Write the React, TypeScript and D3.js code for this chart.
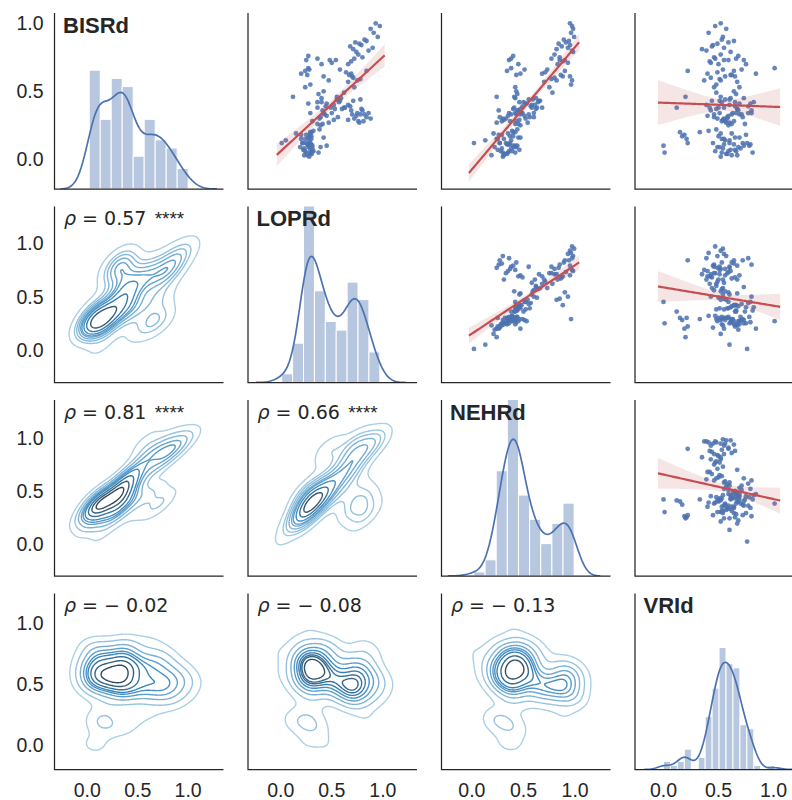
import React from "react";
import * as d3 from "d3";

// ---- data: one entry per subject, same order in every array ----
const variables = ["BISRd", "LOPRd", "NEHRd", "VRId"];

const BISRd = [
  0.03, 0.05, 0.06, 0.08, 0.04, 0.09, 0.07, 0.11, 0.10, 0.02,
  0.12, 0.06, 0.09, 0.12, 0.05, 0.08, 0.11, 0.04, 0.07, 0.12,
  0.10, 0.03, 0.09, 0.11, 0.06, 0.15, 0.16, 0.14, 0.17, 0.18,
  0.16, 0.19, 0.15, 0.21,
  0.10, 0.05, 0.20, 0.17, 0.18, 0.15, 0.12, 0.20, 0.12, 0.14, 0.22, 0.19,
  0.30, 0.33, 0.28, 0.34, 0.31, 0.36, 0.27, 0.34, 0.29, 0.37, 0.32, 0.33, 0.30, 0.33, 0.28, 0.36,
  0.26, 0.30, 0.34, 0.28, 0.40, 0.33, 0.25, 0.38, 0.42, 0.31,
  0.36, 0.27, 0.43, 0.34, 0.39, 0.29, 0.45, 0.48, 0.46, 0.37,
  0.41, 0.32, 0.44, 0.26, 0.38, 0.31, 0.50, 0.42, 0.40, 0.43,
  0.38, 0.44, 0.41, 0.37, 0.45, 0.39, 0.42, 0.38, 0.46, 0.34,
  0.76, 0.73, 0.65, 0.63, 0.62, 0.66, 0.74, 0.70, 0.73, 0.71, 0.73, 0.61, 0.53, 0.55, 0.58, 0.67,
  1.00, 0.98, 0.96, 0.93, 0.90, 0.87, 0.84, 0.82, 0.80, 0.79,
  0.85, 0.81, 0.88, 0.83, 0.86, 0.75, 0.72, 0.77, 0.70, 0.74,
  0.61, 0.58, 0.62, 0.60, 0.64, 0.59, 0.63, 0.66, 0.53, 0.49,
  0.57, 0.65,
];

const LOPRd = [
  0.26, 0.29, 0.24, 0.31, 0.30, 0.27, 0.22, 0.30, 0.31, 0.28,
  0.25, 0.32, 0.19, 0.29, 0.37, 0.23, 0.27, 0.30, 0.29, 0.21,
  0.28, 0.23, 0.39, 0.26, 0.31, 0.24, 0.27, 0.28, 0.30, 0.25,
  0.42, 0.29, 0.20, 0.32,
  0.45, 0.25, 0.30, 0.28, 0.20, 0.30, 0.22, 0.29, 0.01, 0.05, 0.38, 0.15,
  0.72, 0.78, 0.81, 0.75, 0.84, 0.69, 0.77, 0.86, 0.66, 0.79, 0.74, 0.82, 0.88, 0.70, 0.76, 0.80,
  0.41, 0.38, 0.42, 0.31, 0.52, 0.43, 0.39, 0.49, 0.36, 0.56,
  0.41, 0.47, 0.58, 0.29, 0.44, 0.52, 0.40, 0.37, 0.55, 0.60,
  0.27, 0.45, 0.55, 0.36, 0.62, 0.39, 0.42, 0.57, 0.66, 0.71,
  0.63, 0.78, 0.45, 0.53, 0.59, 0.68, 0.40, 0.36, 0.12, 0.50,
  0.27, 0.25, 0.24, 0.20, 0.26, 0.28, 0.36, 0.40, 0.48, 0.50, 0.54, 0.42, 0.24, 0.29, 0.47, 0.27,
  0.93, 0.97, 0.88, 0.91, 0.95, 0.84, 0.79, 0.90, 0.86, 0.74,
  0.77, 0.71, 0.82, 0.68, 0.73, 0.80, 0.69, 0.76, 0.66, 0.72,
  0.70, 0.75, 0.67, 0.71, 0.64, 0.78, 0.69, 0.58, 0.72, 0.62,
  0.66, 0.84,
];

const NEHRd = [
  0.31, 0.35, 0.28, 0.38, 0.34, 0.41, 0.25, 0.36, 0.44, 0.30,
  0.33, 0.39, 0.22, 0.37, 0.42, 0.29, 0.35, 0.32, 0.46, 0.27,
  0.40, 0.19, 0.43, 0.34, 0.36, 0.31, 0.45, 0.38, 0.40, 0.29,
  0.47, 0.35, 0.24, 0.39,
  0.42, 0.30, 0.40, 0.37, 0.26, 0.25, 0.27, 0.42, 0.02, 0.13, 0.44, 0.21,
  0.33, 0.38, 0.29, 0.42, 0.27, 0.45, 0.24, 0.36, 0.31, 0.40, 0.35, 0.43, 0.30, 0.47, 0.37, 0.26,
  0.45, 0.52, 0.48, 0.43, 0.58, 0.55, 0.47, 0.63, 0.50, 0.60,
  0.44, 0.54, 0.66, 0.49, 0.57, 0.46, 0.42, 0.44, 0.41, 0.62,
  0.53, 0.51, 0.59, 0.42, 0.68, 0.56, 0.43, 0.64, 0.61, 0.65,
  0.58, 0.55, 0.52, 0.47, 0.62, 0.49, 0.46, 0.41, 0.24, 0.60,
  0.40, 0.36, 0.34, 0.47, 0.43, 0.51, 0.38, 0.45, 0.85, 0.93, 0.90, 0.88, 0.42, 0.96, 0.82, 0.38,
  0.95, 0.97, 0.98, 0.96, 0.99, 0.94, 0.95, 0.93, 0.97, 0.98,
  0.84, 0.82, 0.89, 0.87, 0.91, 0.85, 0.88, 0.80, 0.83, 0.77,
  0.95, 0.97, 0.86, 0.80, 0.71, 0.77, 0.68, 0.73, 0.75, 0.78,
  0.70, 0.90,
];

const VRId = [
  0.62, 0.53, 0.66, 0.70, 0.58, 0.49, 0.65, 0.55, 0.78, 0.52,
  0.60, 0.47, 0.68, 0.72, 0.81, 0.54, 0.64, 0.57, 0.61, 0.45,
  0.73, 0.67, 0.51, 0.79, 0.59, 0.53, 0.69, 0.56, 0.50, 0.75,
  0.65, 0.62, 0.55, 0.41,
  0.00, 0.01, 0.15, 0.17, 0.19, 0.21, 0.22, 0.33, 0.76, 0.60, 0.48, 0.52,
  0.58, 0.46, 0.64, 0.51, 0.72, 0.43, 0.60, 0.77, 0.54, 0.67, 0.40, 0.62, 0.49, 0.69, 0.56, 0.80,
  0.62, 0.55, 0.66, 0.53, 0.60, 0.71, 0.59, 0.50, 0.65, 0.46,
  0.68, 0.57, 0.44, 0.63, 0.77, 0.54, 0.61, 0.66, 0.52, 0.48,
  0.69, 0.59, 0.56, 0.74, 0.42, 0.58, 0.64, 0.53, 0.39, 0.51,
  0.55, 0.60, 0.79, 0.67, 0.73, 0.65, 0.82, 0.12, 0.20, 0.80,
  0.68, 0.73, 0.64, 0.84, 0.61, 0.71, 0.66, 0.75, 0.55, 0.43, 0.59, 0.65, 0.69, 0.48, 0.52, 1.01,
  0.52, 0.47, 0.57, 0.41, 0.54, 0.64, 0.45, 0.55, 0.39, 0.61,
  0.49, 0.35, 0.53, 0.44, 0.59, 0.46, 0.42, 0.52, 0.50, 0.47,
  0.56, 0.37, 0.62, 0.43, 0.49, 0.51, 0.40, 0.54, 0.46, 0.48,
  0.67, 0.22,
];

const series = [BISRd, LOPRd, NEHRd, VRId];

// Spearman correlations shown in the lower triangle: [row, col]
const rhoPairs: [number, number][] = [[1, 0], [2, 0], [2, 1], [3, 0], [3, 1], [3, 2]];
const rhoValues = [0.57, 0.81, 0.66, -0.02, -0.08, -0.13];
const rhoStars = ["****", "****", "****", "", "", ""];

const tickValues = [0, 0.5, 1.0];
const histBinCounts = [9, 9, 9, 16];
const contourCount = 10;
const contourThresh = 0.05;

// axis limits
const colDomains: [number, number][] = [[-0.324, 1.35], [-0.32, 1.334], [-0.294, 1.342], [-0.259, 1.277]];
const rowDomains: [number, number][] = [[-0.218, 1.076], [-0.305, 1.345], [-0.307, 1.363], [-0.201, 1.245]];
const diagTop = [2.63, 2.52, 2.69, 4.57];

// ---- layout ----
const W = 792;
const H = 800;
const panelW = 169;
const panelH = 176;
const colX = [54.5, 248, 441.5, 635];
const rowY = [13, 206.5, 400, 593.5];

const ink = "#262626";
const blue = "#4c72b0";
const red = "#c44e52";
const sansFont = "'Liberation Sans', Arial, Helvetica, sans-serif";
const mathFont = "'DejaVu Sans', sans-serif";

const SQRT2PI = Math.sqrt(2 * Math.PI);

function sampleVar(v: number[]) {
  const m = d3.mean(v) as number;
  return d3.sum(v, (x) => (x - m) * (x - m)) / (v.length - 1);
}

function sampleCov(a: number[], b: number[]) {
  const ma = d3.mean(a) as number;
  const mb = d3.mean(b) as number;
  let s = 0;
  for (let k = 0; k < a.length; k++) s += (a[k] - ma) * (b[k] - mb);
  return s / (a.length - 1);
}

// density levels enclosing given proportions of the total mass
function isoLevels(values: number[], props: number[]) {
  const sorted = [...values].sort((a, b) => b - a);
  const total = d3.sum(sorted);
  const cum: number[] = [];
  let acc = 0;
  for (const v of sorted) {
    acc += v;
    cum.push(acc / total);
  }
  return props.map((p) => {
    const idx = d3.bisectLeft(cum, 1 - p);
    return sorted[Math.min(idx, sorted.length - 1)];
  });
}

const cmap = d3.piecewise(d3.interpolateRgb, ["#abd0e6", "#3787c0", "#333333"]);

function fmtRho(v: number) {
  const s = Math.abs(v).toFixed(2);
  return v < 0 ? "\u2212 " + s : s;
}

export default function App() {
  const n = BISRd.length;
  const sds = series.map((v) => Math.sqrt(sampleVar(v)));
  const bw1 = sds.map((s) => s * Math.pow(n, -1 / 5));
  const f2d = Math.pow(n, -1 / 6);
  const xScales = colDomains.map((d, j) => d3.scaleLinear().domain(d).range([colX[j], colX[j] + panelW]));
  const yScales = rowDomains.map((d, i) => d3.scaleLinear().domain(d).range([rowY[i] + panelH, rowY[i]]));
  const props = d3.range(contourCount).map((k) => contourThresh + (k * (1 - contourThresh)) / (contourCount - 1));

  const panels: React.ReactNode[] = [];
  const clips: React.ReactNode[] = [];

  for (let i = 0; i < 4; i++) {
    for (let j = 0; j < 4; j++) {
      const id = `clip-${i}-${j}`;
      clips.push(
        <clipPath id={id} key={id}>
          <rect x={colX[j]} y={rowY[i]} width={panelW} height={panelH} />
        </clipPath>
      );
      const xs = series[j];
      const ys = series[i];
      const xS = xScales[j];
      const yS = yScales[i];
      const content: React.ReactNode[] = [];

      if (i === j) {
        // histogram + kde on the diagonal
        const v = series[i];
        const [lo, hi] = d3.extent(v) as [number, number];
        const k = histBinCounts[i];
        const width = (hi - lo) / k;
        const thresholds = d3.range(1, k).map((t) => lo + t * width);
        const bins = d3.bin().domain([lo, hi]).thresholds(thresholds)(v);
        const yD = d3.scaleLinear().domain([0, diagTop[i]]).range([rowY[i] + panelH, rowY[i]]);
        bins.forEach((b, bi) => {
          if (b.length === 0) return;
          const dens = b.length / (n * width);
          content.push(
            <rect
              key={`h${bi}`}
              x={xS(b.x0 as number)}
              y={yD(dens)}
              width={xS(b.x1 as number) - xS(b.x0 as number)}
              height={yD(0) - yD(dens)}
              fill={blue}
              fillOpacity={0.4}
              stroke="#ffffff"
              strokeWidth={1}
            />
          );
        });
        const bw = bw1[i];
        const g0 = lo - 3 * bw;
        const g1 = hi + 3 * bw;
        const grid = d3.range(100).map((t) => g0 + (t * (g1 - g0)) / 99);
        const kde = grid.map(
          (x) =>
            [x, d3.sum(v, (xi) => Math.exp(-0.5 * ((x - xi) / bw) ** 2)) / (n * bw * SQRT2PI)] as [number, number]
        );
        const line = d3.line<[number, number]>().x((d) => xS(d[0])).y((d) => yD(d[1]));
        content.push(<path key="kde" d={line(kde) as string} fill="none" stroke={blue} strokeWidth={1.7} />);
      } else if (i < j) {
        // scatter with linear fit and 95% band
        const mx = d3.mean(xs) as number;
        const my = d3.mean(ys) as number;
        const sxx = d3.sum(xs, (x) => (x - mx) * (x - mx));
        const sxy = d3.sum(xs.map((x, k) => (x - mx) * (ys[k] - my)));
        const b = sxy / sxx;
        const a = my - b * mx;
        const sse = d3.sum(xs.map((x, k) => (ys[k] - a - b * x) ** 2));
        const s = Math.sqrt(sse / (n - 2));
        const tcrit = 1.976;
        const [x0, x1] = d3.extent(xs) as [number, number];
        const pad = 0.05 * (x1 - x0);
        const gx = d3.range(101).map((t) => x0 - pad + (t * (x1 - x0 + 2 * pad)) / 100);
        const band = gx.map((x) => {
          const yh = a + b * x;
          const se = s * Math.sqrt(1 / n + ((x - mx) * (x - mx)) / sxx);
          return { x, yh, lo: yh - tcrit * se, hi: yh + tcrit * se };
        });
        xs.forEach((x, k) => {
          content.push(<circle key={`p${k}`} cx={xS(x)} cy={yS(ys[k])} r={2.4} fill={blue} fillOpacity={0.85} />);
        });
        const area = d3
          .area<{ x: number; lo: number; hi: number }>()
          .x((d) => xS(d.x))
          .y0((d) => yS(d.lo))
          .y1((d) => yS(d.hi));
        content.push(<path key="ci" d={area(band) as string} fill={red} fillOpacity={0.15} stroke="none" />);
        const line = d3.line<{ x: number; yh: number }>().x((d) => xS(d.x)).y((d) => yS(d.yh));
        content.push(<path key="fit" d={line(band) as string} fill="none" stroke={red} strokeWidth={2.2} />);
      } else {
        // bivariate gaussian kde (full covariance, Scott factor) drawn as iso-proportion contours
        const N = 160;
        const fac2 = Math.pow(n, -1 / 3);
        const cxx = sampleVar(xs) * fac2;
        const cyy = sampleVar(ys) * fac2;
        const cxy = sampleCov(xs, ys) * fac2;
        const det = cxx * cyy - cxy * cxy;
        const ia = cyy / det;
        const ib = -cxy / det;
        const ic = cxx / det;
        const norm = 1 / (2 * Math.PI * Math.sqrt(det) * n);
        const hx = f2d * sds[j];
        const hy = f2d * sds[i];
        const [xa, xb] = d3.extent(xs) as [number, number];
        const [ya, yb] = d3.extent(ys) as [number, number];
        const gx0 = xa - 3 * hx;
        const gx1 = xb + 3 * hx;
        const gy0 = ya - 3 * hy;
        const gy1 = yb + 3 * hy;
        const dx = (gx1 - gx0) / (N - 1);
        const dy = (gy1 - gy0) / (N - 1);
        const values: number[] = new Array(N * N);
        for (let r = 0; r < N; r++) {
          const gy = gy0 + r * dy;
          for (let c = 0; c < N; c++) {
            const gxv = gx0 + c * dx;
            let sum = 0;
            for (let k = 0; k < n; k++) {
              const ddx = gxv - xs[k];
              const ddy = gy - ys[k];
              sum += Math.exp(-0.5 * (ia * ddx * ddx + 2 * ib * ddx * ddy + ic * ddy * ddy));
            }
            values[r * N + c] = sum * norm;
          }
        }
        const levels = isoLevels(values, props);
        const lmin = levels[0];
        const lmax = levels[levels.length - 1];
        const contours = d3.contours().size([N, N]).thresholds(levels)(values);
        contours.forEach((ct, ci) => {
          const t = lmax > lmin ? (ct.value - lmin) / (lmax - lmin) : 0;
          let dstr = "";
          ct.coordinates.forEach((poly) => {
            poly.forEach((ring) => {
              dstr +=
                "M" +
                ring
                  .map(([cx, cy]) => `${xS(gx0 + (cx - 0.5) * dx).toFixed(2)},${yS(gy0 + (cy - 0.5) * dy).toFixed(2)}`)
                  .join("L") +
                "Z";
            });
          });
          if (!dstr) return;
          content.push(
            <path key={`c${ci}`} d={dstr} fill="none" stroke={cmap(t)} strokeWidth={1.4} strokeLinejoin="round" />
          );
        });
      }

      panels.push(
        <g key={`panel-${i}-${j}`} clipPath={`url(#${id})`}>
          {content}
        </g>
      );
    }
  }

  // spines, labels, ticks
  const decorations: React.ReactNode[] = [];
  for (let i = 0; i < 4; i++) {
    for (let j = 0; j < 4; j++) {
      const x = colX[j];
      const y = rowY[i];
      decorations.push(
        <path
          key={`sp-${i}-${j}`}
          d={`M${x},${y}V${y + panelH}H${x + panelW}`}
          fill="none"
          stroke={ink}
          strokeWidth={1.25}
        />
      );
    }
  }

  variables.forEach((name, i) => {
    decorations.push(
      <text
        key={`lab-${name}`}
        x={colX[i] + 8.5}
        y={rowY[i] + 19.5}
        fontFamily={sansFont}
        fontWeight="bold"
        fontSize={22}
        fill={ink}
      >
        {name}
      </text>
    );
  });

  rhoPairs.forEach(([i, j], k) => {
    decorations.push(
      <text
        key={`rho-${i}-${j}`}
        x={colX[j] + 9.5}
        y={rowY[i] + 18.5}
        fontSize={19}
        fill={ink}
        style={{ whiteSpace: "pre" }}
      >
        <tspan fontFamily={mathFont} fontStyle="italic">ρ</tspan>
        <tspan fontFamily={mathFont}>{" = " + fmtRho(rhoValues[k])}</tspan>
        {rhoStars[k] ? (
          <tspan fontFamily={sansFont} dx={3}>{" " + rhoStars[k]}</tspan>
        ) : null}
      </text>
    );
  });

  tickValues.forEach((v) => {
    for (let i = 0; i < 4; i++) {
      decorations.push(
        <text
          key={`yt-${i}-${v}`}
          x={colX[0] - 11}
          y={yScales[i](v)}
          dy="0.36em"
          textAnchor="end"
          fontFamily={sansFont}
          fontSize={19.5}
          fill={ink}
        >
          {v.toFixed(1)}
        </text>
      );
    }
    for (let j = 0; j < 4; j++) {
      decorations.push(
        <text
          key={`xt-${j}-${v}`}
          x={xScales[j](v)}
          y={rowY[3] + panelH + 27}
          textAnchor="middle"
          fontFamily={sansFont}
          fontSize={19.5}
          fill={ink}
        >
          {v.toFixed(1)}
        </text>
      );
    }
  });

  return (
    <svg
      width={W}
      height={H}
      viewBox={`0 0 ${W} ${H}`}
      style={{ position: "absolute", left: 0, top: 0, background: "#ffffff" }}
    >
      <defs>{clips}</defs>
      <rect x={0} y={0} width={W} height={H} fill="#ffffff" />
      {panels}
      {decorations}
    </svg>
  );
}
